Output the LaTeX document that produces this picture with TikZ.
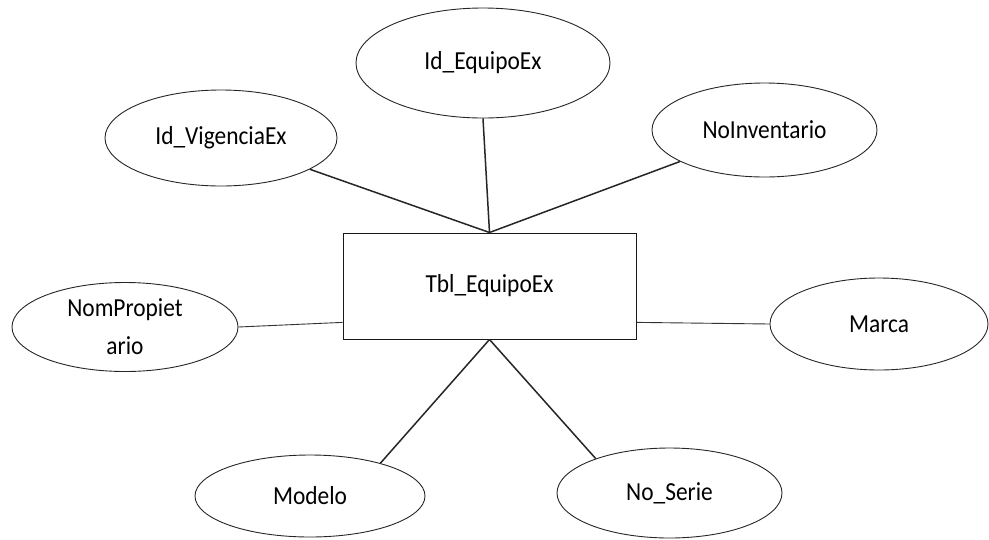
\documentclass[tikz,border=0pt]{standalone}
\usepackage{fontspec}
\setmainfont[FakeStretch=0.9]{Carlito}
\usetikzlibrary{shapes.geometric,calc}
\begin{document}
\begin{tikzpicture}[x=1pt,y=-1pt,
  attr/.style={ellipse, draw=black!85, line width=0.9pt, inner sep=0pt,
               font=\fontsize{26}{29}\selectfont, align=center},
  entity/.style={rectangle, draw=black!90, line width=1pt, inner sep=0pt,
                 minimum width=293pt, minimum height=106pt,
                 font=\fontsize{26}{29}\selectfont},
  link/.style={draw=black!85, line width=1.5pt},
  sidelink/.style={draw=black!80, line width=0.9pt}]
  \useasboundingbox (0,0) rectangle (989,539);

  % entity
  \node[entity] (tbl) at (489.5,286) {Tbl\_EquipoEx};

  % attributes
  \node[attr, minimum width=254pt, minimum height=110pt] (equipo) at (483,63) {Id\_EquipoEx};
  \node[attr, minimum width=232pt, minimum height=96pt]  (vig)    at (221,138) {Id\_VigenciaEx};
  \node[attr, minimum width=225pt, minimum height=94pt]  (inv)    at (764.5,130) {NoInventario};
  \node[attr, minimum width=226pt, minimum height=89pt,
        font=\fontsize{26}{38}\selectfont]               (prop)   at (125,327) {NomPropiet\\ario};
  \node[attr, minimum width=218pt, minimum height=92pt]  (marca)  at (879,324) {Marca};
  \node[attr, minimum width=230pt, minimum height=82pt]  (modelo) at (310,496) {Modelo};
  \node[attr, minimum width=225pt, minimum height=90pt]  (serie)  at (669.5,493) {No\_Serie};

  % attachment points on the entity
  \coordinate (top) at (tbl.north);
  \coordinate (bot) at (tbl.south);
  \coordinate (lft) at ($(tbl.south west)!0.16!(tbl.north west)$);
  \coordinate (rgt) at ($(tbl.south east)!0.16!(tbl.north east)$);

  % connectors
  \draw[link] (top) -- (equipo.south);
  \draw[link] (top) -- (vig);
  \draw[link] (top) -- (inv);
  \draw[link] (bot) -- (modelo.25);
  \draw[link] (bot) -- (serie.155);
  \draw[sidelink] (prop.east) -- (lft);
  \draw[sidelink] (rgt) -- (marca.west);
\end{tikzpicture}
\end{document}
